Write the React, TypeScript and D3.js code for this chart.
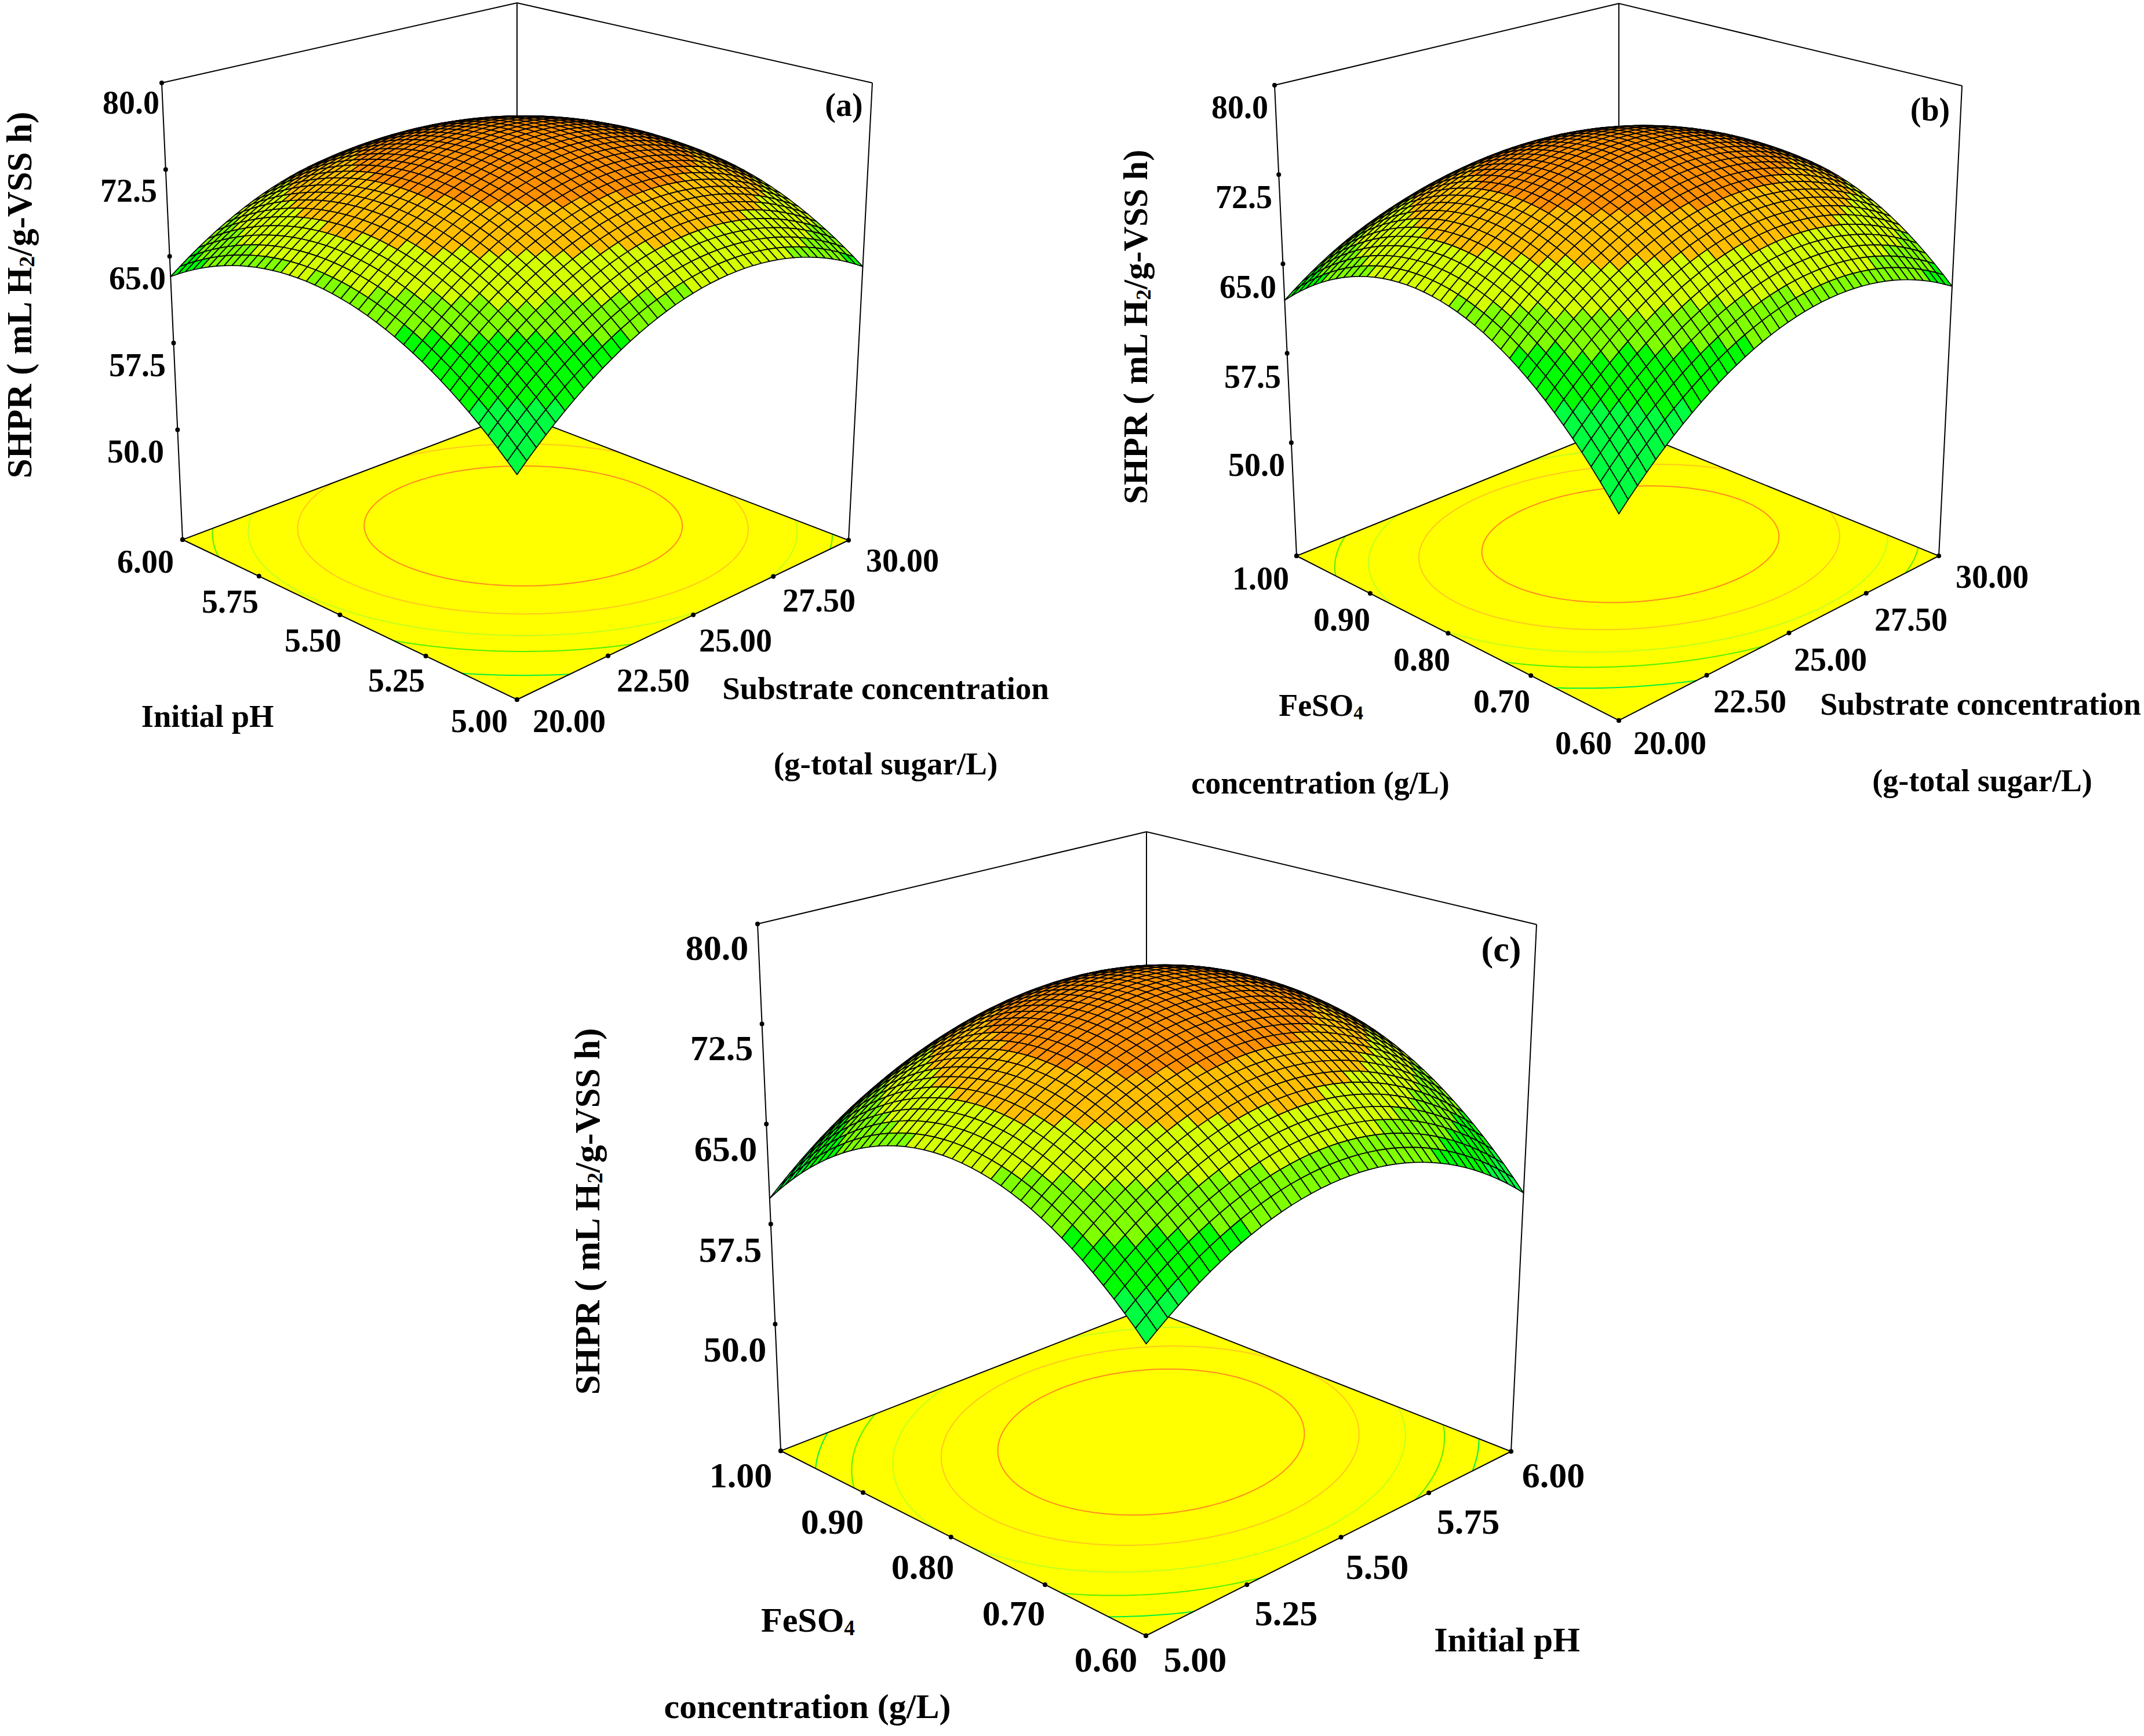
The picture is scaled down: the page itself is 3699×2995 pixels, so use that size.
import React, { useEffect, useRef } from 'react';
import * as d3 from 'd3';

// Axis ticks
const zTicks = [50, 57.5, 65, 72.5, 80];
const substrateTicks = [20, 22.5, 25, 27.5, 30];
const phTicks = [5, 5.25, 5.5, 5.75, 6];
const fesoTicks = [0.6, 0.7, 0.8, 0.9, 1];
const zFloor = 40.5;

// Surfaces are response-surface plots. The values read off the picture are
// peak height, peak position (-1..1 on each factor) and curvature [xx, yy, xy].
// The 40x40 mesh is computed from these readings, it is not typed cell by cell.
const peakA = [75, 0.142, 0.102];
const curveA = [6.2, 6.2, -1.3];
const levelsA = [61.7, 65.2, 67.3, 69.8, 72.4];

const peakB = [74.8, 0.14, 0.06];
const curveB = [6.05, 7.89, -1.85];
const levelsB = [61.6, 64.8, 66.9, 69.6, 72.2];

const peakC = [75, 0.1, 0.067];
const curveC = [6.2, 7.86, 1.2];
const levelsC = [62.5, 65, 67.5, 70, 72.3];

const bandColors = ['#00ff40', '#00ff00', '#7fff00', '#d4ff00', '#ffbf00', '#ff9000'];
const ringColors = ['#00f040', '#50f000', '#c0ff20', '#ffc820', '#ff8c20'];

type P = [number, number];

const layoutA = {
  id: 'a', font: 56, titleFont: 61,
  floor: [[892, 1207], [1464, 932], [892, 713], [315, 931]] as P[],
  top: [[892, 318], [1505, 143], [892, 5], [279, 143]] as P[],
  zLabels: [[234, 779], [237, 630], [237, 480], [222, 329], [226, 177]] as P[],
  uLabels: [[982, 1244], [1127, 1174], [1269, 1105], [1413, 1036], [1557, 967]] as P[],
  vLabels: [[827, 1244], [684, 1174], [540, 1105], [397, 1038], [251, 969]] as P[],
  tag: [1456, 181] as P,
  yTitle: [33, 509] as P,
};
const layoutB = {
  id: 'b', font: 56, titleFont: 59,
  floor: [[2793, 1243], [3345, 959], [2793, 734], [2237, 959]] as P[],
  top: [[2793, 325], [3385, 148], [2793, 6], [2199, 147]] as P[],
  zLabels: [[2168, 802], [2161, 650], [2153, 495], [2146, 340], [2139, 185]] as P[],
  uLabels: [[2881, 1282], [3019, 1210], [3158, 1138], [3297, 1069], [3437, 995]] as P[],
  vLabels: [[2732, 1282], [2591, 1210], [2453, 1138], [2315, 1069], [2175, 998]] as P[],
  tag: [3330, 189] as P,
  yTitle: [1959, 564] as P,
};
const layoutC = {
  id: 'c', font: 62, titleFont: 61,
  floor: [[1977, 2822], [2607, 2504], [1978, 2257], [1347, 2503]] as P[],
  top: [[1978, 1800], [2651, 1595], [1978, 1435], [1307, 1594]] as P[],
  zLabels: [[1268, 2328], [1260, 2156], [1252, 1982], [1245, 1808], [1237, 1635]] as P[],
  uLabels: [[2062, 2863], [2219, 2783], [2376, 2703], [2533, 2625], [2680, 2545]] as P[],
  vLabels: [[1908, 2863], [1749, 2783], [1592, 2703], [1436, 2625], [1278, 2545]] as P[],
  tag: [2590, 1637] as P,
  yTitle: [1013, 2090] as P,
};

type Seg = { t: string; sub?: boolean };
type Title = { x: number; y: number; size: number; segs: Seg[] };
const sub = (t: string) => ({ t, sub: true });
const plain = (t: string) => ({ t });

const panels = [
  {
    layout: layoutA, peak: peakA, curve: curveA, levels: levelsA,
    uTicks: substrateTicks, vTicks: phTicks,
    titles: [
      { x: 358, y: 1235, size: 54.5, segs: [plain('Initial pH')] },
      { x: 1528, y: 1187, size: 55, segs: [plain('Substrate concentration')] },
      { x: 1528, y: 1317, size: 55, segs: [plain('(g-total sugar/L)')] },
    ] as Title[],
  },
  {
    layout: layoutB, peak: peakB, curve: curveB, levels: levelsB,
    uTicks: substrateTicks, vTicks: fesoTicks,
    titles: [
      { x: 2279, y: 1217, size: 54, segs: [plain('FeSO'), sub('4')] },
      { x: 2278, y: 1351, size: 54, segs: [plain('concentration (g/L)')] },
      { x: 3417, y: 1215, size: 54, segs: [plain('Substrate concentration')] },
      { x: 3420, y: 1347, size: 54, segs: [plain('(g-total sugar/L)')] },
    ] as Title[],
  },
  {
    layout: layoutC, peak: peakC, curve: curveC, levels: levelsC,
    uTicks: phTicks, vTicks: fesoTicks,
    titles: [
      { x: 1394, y: 2795, size: 60, segs: [plain('FeSO'), sub('4')] },
      { x: 1393, y: 2944, size: 60, segs: [plain('concentration (g/L)')] },
      { x: 2600, y: 2829, size: 60, segs: [plain('Initial pH')] },
    ] as Title[],
  },
];

// unit square -> quad, corners in order (0,0) (1,0) (1,1) (0,1)
function homography(q: P[]) {
  const [[x0, y0], [x1, y1], [x2, y2], [x3, y3]] = q;
  const dx1 = x1 - x2, dx2 = x3 - x2, sx = x0 - x1 + x2 - x3;
  const dy1 = y1 - y2, dy2 = y3 - y2, sy = y0 - y1 + y2 - y3;
  const det = dx1 * dy2 - dx2 * dy1;
  const g = (sx * dy2 - dx2 * sy) / det;
  const h = (dx1 * sy - sx * dy1) / det;
  const a = x1 - x0 + g * x1, b = x3 - x0 + h * x3;
  const d = y1 - y0 + g * y1, e = y3 - y0 + h * y3;
  return (u: number, v: number): P => {
    const k = g * u + h * v + 1;
    return [(a * u + b * v + x0) / k, (d * u + e * v + y0) / k];
  };
}

const FONT = '"Liberation Serif", "Times New Roman", serif';

function putText(g: any, x: number, y: number, size: number, segs: Seg[], rotate = false) {
  const text = g.append('text')
    .attr('text-anchor', 'middle')
    .attr('dominant-baseline', 'central')
    .attr('font-family', FONT)
    .attr('font-weight', 'bold')
    .attr('font-size', size)
    .attr('fill', '#000')
    .attr('transform', rotate ? `translate(${x},${y}) rotate(-90)` : `translate(${x},${y})`);
  let shifted = false;
  segs.forEach(s => {
    const span = text.append('tspan').text(s.t);
    if (s.sub) {
      span.attr('font-size', size * 0.62).attr('dy', size * 0.22);
      shifted = true;
    } else if (shifted) {
      span.attr('dy', -size * 0.22);
      shifted = false;
    }
  });
}

function drawPanel(svg: any, panel: any) {
  const { layout, peak, curve, levels, uTicks, vTicks, titles } = panel;
  const g = svg.append('g');
  const floorAt = homography(layout.floor);
  const topAt = homography(layout.top);
  const zScale = d3.scaleLinear().domain([zFloor, 80]).range([0, 1]);
  const uScale = d3.scaleLinear().domain(d3.extent(uTicks) as number[]).range([0, 1]);
  const vScale = d3.scaleLinear().domain(d3.extent(vTicks) as number[]).range([0, 1]);
  const band = d3.scaleThreshold<number, string>().domain(levels).range(bandColors);

  const project = (u: number, v: number, z: number): P => {
    const a = floorAt(u, v), b = topAt(u, v), w = zScale(z);
    return [a[0] + (b[0] - a[0]) * w, a[1] + (b[1] - a[1]) * w];
  };
  const response = (x: number, y: number) => {
    const dx = x - peak[1], dy = y - peak[2];
    return peak[0] - curve[0] * dx * dx - curve[1] * dy * dy + curve[2] * dx * dy;
  };
  const line = d3.line();

  // box frame behind the surface
  const frame = g.append('g').attr('fill', 'none').attr('stroke', '#000').attr('stroke-width', 2);
  const [, fR, fB, fL] = layout.floor;
  const [, tR, tB, tL] = layout.top;
  [[fB, tB], [tL, tB], [tB, tR], [fL, tL], [fR, tR]].forEach(seg =>
    frame.append('path').attr('d', line(seg as P[])));

  // floor with contour rings
  const clipId = `floor-${layout.id}`;
  g.append('clipPath').attr('id', clipId).append('path')
    .attr('d', line(layout.floor) + 'Z');
  g.append('path').attr('d', line(layout.floor) + 'Z').attr('fill', '#ffff00');

  const gridN = 140;
  const gridScale = d3.scaleLinear().domain([0.5, gridN - 0.5]).range([-1.4, 1.4]);
  const grid: number[] = [];
  d3.range(gridN).forEach(r => d3.range(gridN).forEach(c => {
    grid.push(response(gridScale(c + 0.5), gridScale(r + 0.5)));
  }));
  const rings = d3.contours().size([gridN, gridN]).thresholds(levels)(grid);
  const ringG = g.append('g').attr('clip-path', `url(#${clipId})`).attr('fill', 'none').attr('stroke-width', 2);
  rings.forEach((ring, i) => {
    ring.coordinates.forEach(poly => poly.forEach(loop => {
      const pts = loop.map(([c, r]) => floorAt((gridScale(c) + 1) / 2, (gridScale(r) + 1) / 2));
      ringG.append('path').attr('d', line(pts) + 'Z').attr('stroke', ringColors[i]);
    }));
  });
  g.append('path').attr('d', line(layout.floor) + 'Z')
    .attr('fill', 'none').attr('stroke', '#000').attr('stroke-width', 2);

  // tick dots
  const dots: P[] = [
    ...zTicks.map(z => project(0, 1, z)),
    floorAt(0, 1),
    ...uTicks.map((t: number) => floorAt(uScale(t), 0)),
    ...vTicks.map((t: number) => floorAt(0, vScale(t))),
  ];
  g.append('g').selectAll('circle').data(dots).join('circle')
    .attr('cx', (d: P) => d[0]).attr('cy', (d: P) => d[1]).attr('r', 4).attr('fill', '#000');

  // surface mesh, painted from the back corner to the front one
  const steps = d3.range(40);
  const cells: { i: number; j: number }[] = [];
  steps.forEach(i => steps.forEach(j => cells.push({ i, j })));
  cells.sort((a, b) => (b.i + b.j) - (a.i + a.j));
  const cellU = d3.scaleLinear().domain([0, 40]).range([0, 1]);
  const zAt = (i: number, j: number) => response(cellU(i) * 2 - 1, cellU(j) * 2 - 1);
  const corner = (i: number, j: number) => project(cellU(i), cellU(j), zAt(i, j));
  g.append('g').attr('stroke', '#000').attr('stroke-width', 1.7).attr('stroke-linejoin', 'round')
    .selectAll('path').data(cells).join('path')
    .attr('d', (c: any) => line([
      corner(c.i, c.j), corner(c.i + 1, c.j), corner(c.i + 1, c.j + 1), corner(c.i, c.j + 1),
    ]) + 'Z')
    .attr('fill', (c: any) => band(zAt(c.i + 0.5, c.j + 0.5)));

  // labels
  const zFmt = d3.format('.1f');
  const axisFmt = d3.format('.2f');
  zTicks.forEach((z, i) => {
    const [x, y] = layout.zLabels[i];
    putText(g, x, y, layout.font, [plain(zFmt(z))]);
  });
  uTicks.forEach((t: number, i: number) => {
    const [x, y] = layout.uLabels[i];
    putText(g, x, y, layout.font, [plain(axisFmt(t))]);
  });
  vTicks.forEach((t: number, i: number) => {
    const [x, y] = layout.vLabels[i];
    putText(g, x, y, layout.font, [plain(axisFmt(t))]);
  });
  titles.forEach((t: Title) => putText(g, t.x, t.y, t.size, t.segs));
  putText(g, layout.tag[0], layout.tag[1], layout.font, [plain(`(${layout.id})`)]);
  putText(g, layout.yTitle[0], layout.yTitle[1], layout.titleFont,
    [plain('SHPR ( mL H'), sub('2'), plain('/g-VSS h)')], true);
}

export default function App() {
  const svgRef = useRef<SVGSVGElement>(null);

  useEffect(() => {
    const svg = d3.select(svgRef.current);
    svg.selectAll('*').remove();
    panels.forEach(p => drawPanel(svg, p));
  }, []);

  return (
    <svg
      ref={svgRef}
      width={3699}
      height={2995}
      viewBox="0 0 3699 2995"
      style={{ position: 'absolute', left: 0, top: 0, background: '#fff' }}
    />
  );
}
